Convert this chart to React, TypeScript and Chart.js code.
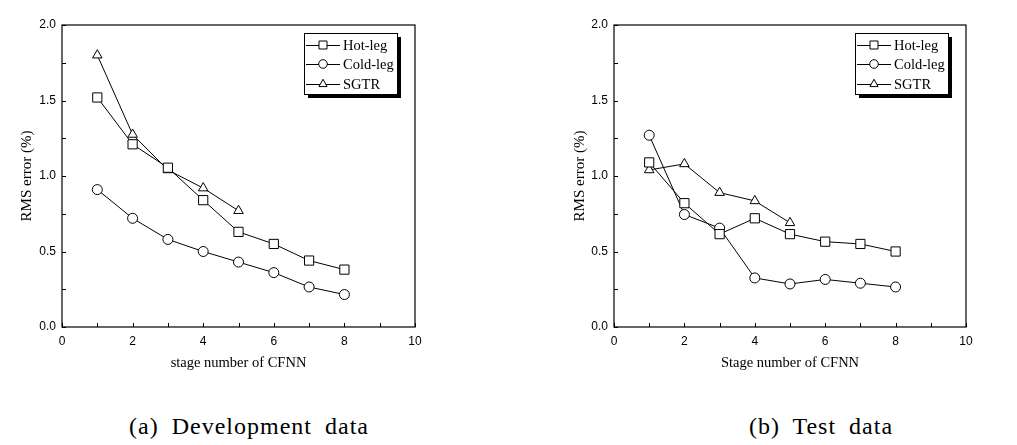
import React, { useEffect, useRef } from 'react';
import { Chart, registerables } from 'chart.js';

Chart.register(...registerables);

const stages = [1, 2, 3, 4, 5, 6, 7, 8];
const sgtrStages = [1, 2, 3, 4, 5];
const seriesNames = ['Hot-leg', 'Cold-leg', 'SGTR'];

const devHotLeg = [1.52, 1.21, 1.055, 0.84, 0.63, 0.55, 0.44, 0.38];
const devColdLeg = [0.91, 0.72, 0.58, 0.5, 0.43, 0.36, 0.265, 0.215];
const devSGTR = [1.8, 1.275, 1.04, 0.92, 0.77];

const testHotLeg = [1.09, 0.82, 0.615, 0.72, 0.615, 0.565, 0.55, 0.5];
const testColdLeg = [1.27, 0.745, 0.655, 0.325, 0.285, 0.315, 0.29, 0.265];
const testSGTR = [1.04, 1.08, 0.89, 0.835, 0.69];

const xTickValues = [0, 1, 2, 3, 4, 5, 6, 7, 8, 9, 10];
const yTickValues = [0, 0.25, 0.5, 0.75, 1, 1.25, 1.5, 1.75, 2];

const devXTitle = 'stage number of CFNN';
const testXTitle = 'Stage number of CFNN';
const yTitle = 'RMS error (%)';
const devCaption = '(a) Development data';
const testCaption = '(b) Test data';

const pointStyles = ['rect', 'circle', 'triangle'];
const pointRadii = [6.5, 5, 5.5];

function toXY(xs: number[], ys: number[]) {
  return ys.map((y, i) => ({ x: xs[i], y }));
}

function drawMarker(ctx: CanvasRenderingContext2D, style: string, x: number, y: number, r: number) {
  ctx.beginPath();
  if (style === 'rect') {
    ctx.rect(x - r, y - r, 2 * r, 2 * r);
  } else if (style === 'circle') {
    ctx.arc(x, y, r, 0, Math.PI * 2);
  } else {
    ctx.moveTo(x, y - r * 1.1);
    ctx.lineTo(x + r * 0.95, y + r * 0.6);
    ctx.lineTo(x - r * 0.95, y + r * 0.6);
    ctx.closePath();
  }
  ctx.fillStyle = '#fff';
  ctx.fill();
  ctx.stroke();
}

const framePlugin = {
  id: 'frameTicksLegend',
  afterDraw(chart: any) {
    const { ctx, chartArea: a, scales } = chart;
    const xs = scales.x;
    const ys = scales.y;
    ctx.save();
    ctx.strokeStyle = '#000';
    ctx.lineWidth = 1.2;
    ctx.strokeRect(a.left, a.top, a.right - a.left, a.bottom - a.top);
    ctx.lineWidth = 1;
    ctx.beginPath();
    xTickValues.forEach((v) => {
      const px = Math.round(xs.getPixelForValue(v)) + 0.5;
      ctx.moveTo(px, a.bottom);
      ctx.lineTo(px, a.bottom - 4);
    });
    yTickValues.forEach((v) => {
      const py = Math.round(ys.getPixelForValue(v)) + 0.5;
      ctx.moveTo(a.left, py);
      ctx.lineTo(a.left + 4, py);
    });
    ctx.stroke();

    // legend
    const bw = 93;
    const bh = 61;
    const bx = a.right - 18 - bw;
    const by = a.top + 8;
    ctx.fillStyle = '#000';
    ctx.fillRect(bx + 4, by + 4, bw, bh);
    ctx.fillStyle = '#fff';
    ctx.fillRect(bx, by, bw, bh);
    ctx.lineWidth = 1;
    ctx.strokeRect(bx + 0.5, by + 0.5, bw, bh);
    const rows = [12, 31, 51];
    ctx.font = '14.5px "Liberation Serif"';
    ctx.textBaseline = 'middle';
    ctx.textAlign = 'left';
    seriesNames.forEach((name, i) => {
      const ry = by + rows[i];
      ctx.beginPath();
      ctx.moveTo(bx + 2, ry + 0.5);
      ctx.lineTo(bx + 36, ry + 0.5);
      ctx.stroke();
      drawMarker(ctx, pointStyles[i], bx + 19, ry, i === 0 ? 4 : 4.3);
      ctx.fillStyle = '#000';
      ctx.fillText(name, bx + 39, ry + 1);
    });
    ctx.restore();
  },
};

function makeConfig(hot: number[], cold: number[], sgtr: number[], xTitle: string, padLeft: number, padRight: number, titlePad: number): any {
  const series = [toXY(stages, hot), toXY(stages, cold), toXY(sgtrStages, sgtr)];
  return {
    type: 'line',
    data: {
      datasets: series.map((d, i) => ({
        label: seriesNames[i],
        data: d,
        borderColor: '#000',
        borderWidth: 1,
        backgroundColor: '#fff',
        pointStyle: pointStyles[i],
        pointRadius: pointRadii[i],
        pointBorderColor: '#000',
        pointBackgroundColor: '#fff',
        pointBorderWidth: 1,
        tension: 0,
        fill: false,
      })),
    },
    options: {
      animation: false,
      responsive: false,
      maintainAspectRatio: false,
      layout: { padding: { left: padLeft, right: padRight, top: 25, bottom: 0 } },
      plugins: { legend: { display: false }, tooltip: { enabled: false } },
      scales: {
        x: {
          type: 'linear',
          min: 0,
          max: 10,
          afterFit: (s: any) => { s.height = 53; },
          grid: { display: false, drawTicks: false, tickLength: 0 },
          border: { display: false },
          ticks: {
            stepSize: 2,
            padding: 7,
            color: '#000',
            font: { family: '"Liberation Sans"', size: 12 },
            maxRotation: 0,
          },
          title: {
            display: true,
            text: xTitle,
            color: '#000',
            font: { family: '"Liberation Serif"', size: 14.5 },
            padding: 8,
          },
        },
        y: {
          type: 'linear',
          min: 0,
          max: 2,
          afterFit: (s: any) => { s.width = 62; },
          grid: { display: false, drawTicks: false, tickLength: 0 },
          border: { display: false },
          ticks: {
            stepSize: 0.5,
            padding: 6,
            color: '#000',
            font: { family: '"Liberation Sans"', size: 12 },
            callback: (v: any) => Number(v).toFixed(1),
          },
          title: {
            display: true,
            text: yTitle,
            color: '#000',
            font: { family: '"Liberation Serif"', size: 15 },
            padding: titlePad,
          },
        },
      },
    },
    plugins: [framePlugin],
  };
}

function ChartBox(props: { cfg: any; left: number }) {
  const ref = useRef<HTMLCanvasElement>(null);
  useEffect(() => {
    if (!ref.current) return;
    const chart = new Chart(ref.current, props.cfg);
    return () => chart.destroy();
  }, []);
  return (
    <div style={{ position: 'absolute', left: props.left, top: 0, width: 508, height: 380 }}>
      <canvas ref={ref} width={508} height={380} style={{ width: 508, height: 380 }} />
    </div>
  );
}

const captionStyle: React.CSSProperties = {
  position: 'absolute',
  top: 412,
  fontFamily: '"Liberation Serif"',
  fontSize: 24,
  letterSpacing: 1,
  wordSpacing: 6,
  whiteSpace: 'nowrap',
  transform: 'translateX(-50%)',
  color: '#000',
  lineHeight: '28px',
};

export default function App() {
  return (
    <div style={{ position: 'absolute', left: 0, top: 0, width: 1017, height: 445, background: '#fff', overflow: 'hidden' }}>
      <ChartBox left={0} cfg={makeConfig(devHotLeg, devColdLeg, devSGTR, devXTitle, 0, 93, 18.5)} />
      <ChartBox left={508} cfg={makeConfig(testHotLeg, testColdLeg, testSGTR, testXTitle, 44, 50, 19.5)} />
      <div style={{ ...captionStyle, left: 249 }}>{devCaption}</div>
      <div style={{ ...captionStyle, left: 821 }}>{testCaption}</div>
    </div>
  );
}
